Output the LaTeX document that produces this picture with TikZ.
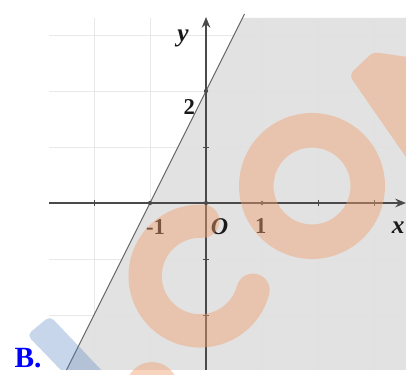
\documentclass[tikz,border=0pt]{standalone}
\usepackage{fontspec}
\setmainfont{Liberation Serif}
\usetikzlibrary{arrows.meta}
\definecolor{shadec}{HTML}{E0E0E0}
\definecolor{gridc}{HTML}{E8E8E8}
\definecolor{axisc}{HTML}{4A4A4A}
\definecolor{wmorange}{HTML}{F0A070}
\definecolor{wmblue}{HTML}{5080C0}
\tikzset{
  gridline/.style={gridc, line width=0.6pt},
  axisline/.style={axisc, line width=0.8pt, -{Stealth[length=8pt,width=6.5pt]}},
  graphline/.style={black!60, line width=0.7pt},
  tickmark/.style={axisc, line width=0.7pt},
  lbl/.style={font=\fontsize{17}{17}\selectfont\bfseries, text=black!90, inner sep=0pt},
  lblit/.style={lbl, font=\fontsize{19}{19}\selectfont\bfseries\itshape},
  wm/.style={wmorange, opacity=0.45},
}
\begin{document}
\begin{tikzpicture}[x=42pt,y=42pt]
\useasboundingbox (-3.6786,-3.0536) rectangle (3.5714,3.625);
\begin{scope}
\clip (-3.6786,-3.0536) rectangle (3.5714,3.625);
% grid
\foreach \gx in {-2,-1,0,1,2,3} \draw[gridline] (\gx,-2.982) -- (\gx,3.3036);
\foreach \gy in {-2,-1,0,1,2,3} \draw[gridline] (-2.8036,\gy) -- (3.5714,\gy);
% shaded half-plane
\fill[shadec, opacity=0.93] (0.6518,3.3036) -- (3.6,3.3036) -- (3.6,-2.982) -- (-2.491,-2.982) -- cycle;
% axes
\coordinate (xl) at (-2.8036,0);
\coordinate (xr) at (3.57,0);
\coordinate (yb) at (0,-2.982);
\coordinate (yt) at (0,3.32);
\draw[axisline] (xl) -- (xr);
\draw[axisline] (yb) -- (yt);
\foreach \tx in {-2,2,3} \draw[tickmark] (\tx,-0.05) -- (\tx,0.05);
\foreach \ty in {-2,-1,1} \draw[tickmark] (-0.05,\ty) -- (0.05,\ty);
% graph line
\coordinate (lt) at (0.6875,3.375);
\coordinate (lb) at (-2.491,-2.982);
\draw[graphline] (lb) -- (lt);
% points
\fill[axisc] (-1,0) circle (1.6pt);
\fill[axisc] (0,0) circle (1.6pt);
\fill[axisc] (0,2) circle (1.6pt);
\draw[axisc, line width=0.5pt] (1,0) circle (1.4pt);
% labels
\node[lblit] (ly) at (-0.41,2.93) {y};
\node[lbl] (l2) at (-0.30,1.71) {2};
\node[lbl] (lm1) at (-0.90,-0.42) {-1};
\node[lblit, font=\fontsize{18}{18}\selectfont\bfseries\itshape] (lO) at (0.24,-0.43) {O};
\node[lbl] (l1) at (0.98,-0.41) {1};
\node[lblit] (lx) at (3.43,-0.44) {x};
% watermark
\draw[wm, line width=25.9pt] (1.893,0.304) circle (0.9955);
\draw[wm, line width=25pt, line cap=round] (-0.107,-1.304) ++(87:0.98) arc (87:345:0.98);
\fill[wm, rounded corners=4pt] (2.554,2.286) -- (2.982,2.696) -- (4.0,2.55) -- (4.0,0.2) -- cycle;
\fill[wm] (-0.964,-3.304) circle (0.464);
\begin{scope}
\clip (-3.7,-2.982) rectangle (3.6,3.7);
\fill[wmblue, opacity=0.32, rounded corners=4pt] (-3.196,-2.357) -- (-2.786,-2.018) -- (-1.446,-3.429) -- (-2.161,-3.429) -- cycle;
\end{scope}
\end{scope}
\node[font=\fontsize{22}{22}\selectfont\bfseries, text=blue, inner sep=0pt] (lB) at (-3.179,-2.768) {B.};
\end{tikzpicture}
\end{document}
